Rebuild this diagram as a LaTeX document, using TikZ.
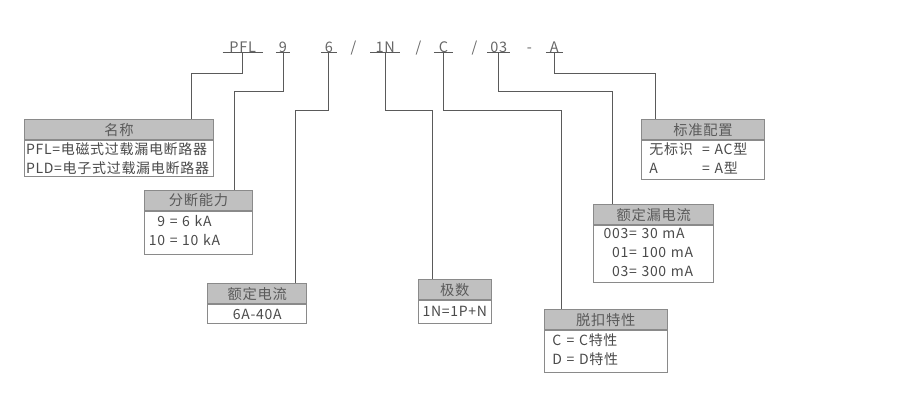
\documentclass[tikz,border=0pt]{standalone}
\usepackage{fontspec}
\setmainfont{Noto Sans CJK SC}
\newfontfamily\spacedfont[LetterSpace=5]{Noto Sans CJK SC}
\definecolor{hdrfill}{HTML}{C0C0C0}
\definecolor{boxline}{HTML}{8A8A8A}
\definecolor{connline}{HTML}{5A5A5A}
\definecolor{txt}{HTML}{4A4A4A}
\definecolor{hdrtxt}{HTML}{5A5A5A}
\definecolor{codetxt}{HTML}{666666}
\begin{document}
\begin{tikzpicture}[x=1pt,y=-1pt,
 code/.style={inner sep=0pt, text depth=0pt, anchor=base, font=\spacedfont\fontsize{14.5}{14.5}\selectfont, text=codetxt},
 uline/.style={draw=connline, line width=1.2pt},
 conn/.style={draw=connline, line width=1pt},
 hdr/.style={draw=boxline, fill=hdrfill, line width=0.8pt, anchor=north west, minimum height=20pt, inner sep=0pt, font=\spacedfont\fontsize{14.3}{14.3}\selectfont, text=hdrtxt},
 bodybox/.style={draw=boxline, fill=white, line width=0.8pt, anchor=north west, inner ysep=0pt, font=\spacedfont\fontsize{14}{19}\selectfont, text=txt, align=left},
]
\useasboundingbox (0,0) rectangle (900,410);

% code tokens
\node[code, minimum width=40pt] (pfl) at (242.7,52.5) {PFL};
\node[code, minimum width=14pt] (nine) at (283,52.5) {9};
\node[code, minimum width=15.7pt] (six) at (328.8,52.5) {6};
\node[code] (sl1) at (353.5,52.5) {/};
\node[code, minimum width=29.3pt] (onen) at (385.3,52.5) {1N};
\node[code] (sl2) at (418.5,52.5) {/};
\node[code, minimum width=18.7pt] (cc) at (443.5,52.5) {C};
\node[code] (sl3) at (474.5,52.5) {/};
\node[code, minimum width=23pt] (zt) at (498.7,52.5) {03};
\node[code] (dash) at (529.5,52.5) {-};
\node[code, minimum width=16.7pt] (aa) at (554.4,52.5) {A};
\foreach \t in {pfl,nine,six,onen,cc,zt,aa}
  \draw[uline] (\t.south west) -- (\t.south east);

% boxes
\node[hdr, minimum width=189.3pt] (h1) at (24,119.3) {名称};
\node[bodybox, minimum height=36pt, text width=186pt, inner xsep=1.65pt] (b1) at (h1.south west)
  {PFL=电磁式过载漏电断路器\\PLD=电子式过载漏电断路器};

\node[hdr, minimum width=108.3pt] (h2) at (144,190) {分断能力};
\node[bodybox, minimum height=42.7pt, text width=99.3pt, inner xsep=4.5pt] (b2) at (h2.south west)
  {\begin{tabular}{@{}r@{\ =\ }l@{}}9 & 6 kA\\10 & 10 kA\end{tabular}};

\node[hdr, minimum width=99pt] (h3) at (207.3,283.3) {额定电流};
\node[bodybox, minimum height=19pt, text width=95pt, inner xsep=2pt, align=center] (b3) at (h3.south west)
  {6A-40A};

\node[hdr, minimum width=72.4pt] (h4) at (418.3,279.3) {极数};
\node[bodybox, minimum height=22.4pt, text width=71.4pt, inner xsep=0.5pt, align=center] (b4) at (h4.south west)
  {1N=1P+N};

\node[hdr, minimum width=123.3pt] (h5) at (641,119.3) {标准配置};
\node[bodybox, minimum height=39pt, text width=107.3pt, inner xsep=8pt] (b5) at (h5.south west)
  {\begin{tabular}{@{}l@{\ \ =\ }l@{}}无标识 & AC型\\A & A型\end{tabular}};

\node[hdr, minimum width=120pt] (h6) at (593.3,204.3) {额定漏电流};
\node[bodybox, minimum height=54pt, text width=100pt, inner xsep=10pt] (b6) at (h6.south west)
  {\begin{tabular}{@{}r@{=\ }l@{}}003 & 30 mA\\01 & 100 mA\\03 & 300 mA\end{tabular}};

\node[hdr, minimum width=122.7pt] (h7) at (544,309.3) {脱扣特性};
\node[bodybox, minimum height=41.7pt, text width=106.7pt, inner xsep=8pt] (b7) at (h7.south west)
  {\begin{tabular}{@{}l@{\ =\ }l@{}}C & C特性\\D & D特性\end{tabular}};

% elbow coordinates
\coordinate (e1) at (191,73.3);
\coordinate (e2) at (234.3,91.7);
\coordinate (e3) at (295,110);
\coordinate (e4) at (432.7,110);
\coordinate (e5) at (561.7,110);
\coordinate (e6) at (612.3,91.7);
\coordinate (e7) at (655,73.3);

% connectors
\draw[conn] (pfl.south) |- (e1) -- (e1 |- h1.north);
\draw[conn] (nine.south) |- (e2) -- (e2 |- h2.north);
\draw[conn] (six.south) |- (e3) -- (e3 |- h3.north);
\draw[conn] (onen.south) |- (e4) -- (e4 |- h4.north);
\draw[conn] (cc.south) |- (e5) -- (e5 |- h7.north);
\draw[conn] (zt.south) |- (e6) -- (e6 |- h6.north);
\draw[conn] (aa.south) |- (e7) -- (e7 |- h5.north);
\end{tikzpicture}
\end{document}
